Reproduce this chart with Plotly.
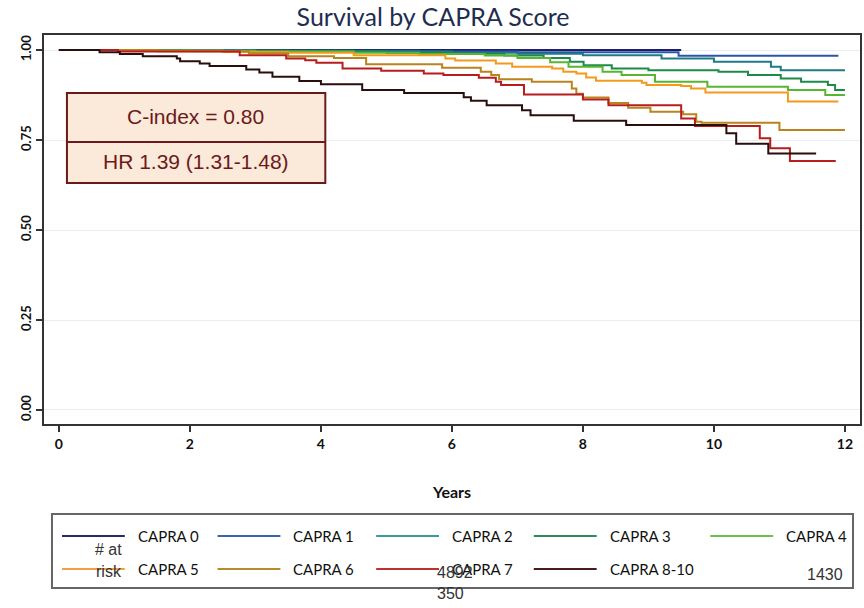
import plotly.graph_objects as go

# ---------------- data ----------------
categories = ["CAPRA 0", "CAPRA 1", "CAPRA 2", "CAPRA 3", "CAPRA 4",
              "CAPRA 5", "CAPRA 6", "CAPRA 7", "CAPRA 8-10"]

t_c0 = [0, 9.5]
s_c0 = [1.0, 1.0]

t_c1 = [0, 3.0, 5.5, 7.0, 9.46, 11.9]
s_c1 = [1.0, 0.998, 0.996, 0.994, 0.984, 0.984]

t_c2 = [0, 2.5, 4.5, 6.0, 7.0, 8.0, 9.2, 10.0, 10.87, 11.02, 12.0]
s_c2 = [1.0, 0.998, 0.996, 0.993, 0.990, 0.986, 0.977, 0.968, 0.954, 0.944, 0.944]

t_c3 = [0, 2.0, 3.5, 5.0, 6.0, 6.8, 7.4, 7.8, 8.01, 8.44, 9.0, 10.07, 10.52, 11.02, 11.33, 11.74, 11.85, 12.0]
s_c3 = [1.0, 0.998, 0.996, 0.993, 0.990, 0.985, 0.978, 0.968, 0.958, 0.949, 0.944, 0.940, 0.931, 0.921, 0.912, 0.903, 0.889, 0.889]

t_c4 = [0, 1.5, 3.0, 4.5, 5.5, 6.5, 7.0, 7.5, 7.78, 8.3, 8.59, 9.1, 9.9, 11.13, 11.7, 12.0]
s_c4 = [1.0, 0.998, 0.996, 0.993, 0.989, 0.985, 0.978, 0.966, 0.954, 0.940, 0.931, 0.912, 0.898, 0.889, 0.875, 0.875]

t_c5 = [0, 1.5, 2.5, 3.5, 4.5, 5.9, 6.05, 6.67, 6.92, 7.53, 7.7, 7.9, 8.05, 8.2, 8.9, 8.97, 9.5, 9.65, 9.87, 11.13, 11.9]
s_c5 = [1.0, 0.998, 0.995, 0.993, 0.986, 0.977, 0.971, 0.963, 0.954, 0.949, 0.940, 0.935, 0.924, 0.915, 0.909, 0.903, 0.900, 0.893, 0.882, 0.857, 0.857]

t_c6 = [0, 1.5, 2.9, 3.5, 4.2, 4.69, 5.85, 6.44, 6.6, 6.72, 7.22, 7.83, 7.9, 8.0, 8.39, 8.69, 9.03, 9.53, 9.73, 9.81, 11.0, 12.0]
s_c6 = [1.0, 0.997, 0.991, 0.983, 0.978, 0.961, 0.951, 0.940, 0.931, 0.919, 0.912, 0.893, 0.879, 0.868, 0.853, 0.840, 0.829, 0.822, 0.801, 0.798, 0.778, 0.778]

t_c7 = [0, 0.9, 2.76, 3.47, 3.76, 3.93, 4.33, 4.92, 5.57, 5.87, 6.41, 6.67, 6.75, 7.1, 8.0, 8.39, 9.5, 9.71, 10.7, 10.86, 11.16, 11.86]
s_c7 = [1.0, 0.996, 0.986, 0.977, 0.972, 0.965, 0.949, 0.943, 0.935, 0.931, 0.923, 0.912, 0.903, 0.877, 0.863, 0.847, 0.810, 0.789, 0.755, 0.727, 0.692, 0.692]

t_c8 = [0, 0.62, 0.93, 1.28, 1.8, 1.85, 2.15, 2.3, 2.86, 3.06, 3.26, 3.67, 4.0, 4.63, 5.27, 6.18, 6.29, 6.53, 7.07, 7.2, 7.86, 8.66, 10.19, 10.34, 10.83, 11.56]
s_c8 = [1.0, 0.994, 0.989, 0.983, 0.977, 0.969, 0.963, 0.956, 0.946, 0.938, 0.926, 0.914, 0.905, 0.889, 0.881, 0.869, 0.859, 0.847, 0.833, 0.819, 0.804, 0.792, 0.769, 0.740, 0.713, 0.713]

times = [t_c0, t_c1, t_c2, t_c3, t_c4, t_c5, t_c6, t_c7, t_c8]
survs = [s_c0, s_c1, s_c2, s_c3, s_c4, s_c5, s_c6, s_c7, s_c8]

x_ticks = [0, 2, 4, 6, 8, 10, 12]
y_ticks = [0.0, 0.25, 0.50, 0.75, 1.00]
y_ticklabels = ["0.00", "0.25", "0.50", "0.75", "1.00"]

# ---------------- style ----------------
line_colors = ["#1c1f6e", "#2c55a8", "#1f7a86", "#1e8a48", "#58b532",
               "#f39a1e", "#b8841c", "#b81c1c", "#2a0d0d"]
legend_colors = ["#2a2a6a", "#3a64b0", "#3a9c94", "#2e8a5a", "#6cbf48",
                 "#f5a040", "#b88a30", "#c03030", "#4a1a1a"]

W, H = 864, 608
ML, MR, MT, MB = 44, 2, 35, 184
PW, PH = W - ML - MR, H - MT - MB


def px(xpix):
    return (xpix - ML) / PW


def py(ypix):
    return (H - MB - ypix) / PH


fig = go.Figure()
for name, tt, ss, col in zip(categories, times, survs, line_colors):
    fig.add_trace(go.Scatter(x=tt, y=ss, mode="lines", name=name,
                             line=dict(color=col, width=2, shape="hv"),
                             showlegend=False))

shapes = []
annotations = []

# C-index box
shapes.append(dict(type="rect", xref="paper", yref="paper",
                   x0=px(67), x1=px(326), y0=py(183), y1=py(93),
                   fillcolor="#fbe9d9", line=dict(color="#6b1a1a", width=2), layer="above"))
shapes.append(dict(type="line", xref="paper", yref="paper",
                   x0=px(67), x1=px(326), y0=py(142), y1=py(142),
                   line=dict(color="#6b1a1a", width=2)))
for txt, yy in [("C-index = 0.80", 117), ("HR 1.39 (1.31-1.48)", 161)]:
    annotations.append(dict(text=txt, xref="paper", yref="paper",
                            x=px(196), y=py(yy), xanchor="center", yanchor="middle",
                            showarrow=False,
                            font=dict(family="Liberation Sans", size=21, color="#6b1a1a")))

# manual legend
shapes.append(dict(type="rect", xref="paper", yref="paper",
                   x0=px(52), x1=px(855), y0=py(588), y1=py(514),
                   fillcolor="white", line=dict(color="#666666", width=2)))
col_x = [62, 218, 377, 535, 712]
row_y = [536, 569]
for i, (name, col) in enumerate(zip(categories, legend_colors)):
    r, c = divmod(i, 5)
    x0 = col_x[c]
    yy = row_y[r]
    shapes.append(dict(type="line", xref="paper", yref="paper",
                       x0=px(x0), x1=px(x0 + 63), y0=py(yy), y1=py(yy),
                       line=dict(color=col, width=2)))
    annotations.append(dict(text=name, xref="paper", yref="paper",
                            x=px(x0 + 74), y=py(yy), xanchor="left", yanchor="middle",
                            showarrow=False,
                            font=dict(family="Lato", size=15, color="#111111")))

# stray "# at risk" texts
for txt, xx, yy, anchor in [("# at", 124, 549, "right"), ("risk", 124, 571, "right"),
                            ("4892", 436, 572, "left"), ("350", 436, 593, "left"),
                            ("1430", 847, 574, "right")]:
    annotations.append(dict(text=txt, xref="paper", yref="paper", x=px(xx), y=py(yy),
                            xanchor=anchor, yanchor="middle", showarrow=False,
                            font=dict(family="Liberation Sans", size=16, color="#333333")))

fig.update_layout(
    width=W, height=H,
    margin=dict(l=ML, r=MR, t=MT, b=MB),
    paper_bgcolor="white", plot_bgcolor="white",
    title=dict(text="Survival by CAPRA Score", x=px(454), xanchor="center",
               y=1 - 17 / H, yanchor="middle",
               font=dict(family="Lato", size=25, color="#1f2d50")),
    shapes=shapes, annotations=annotations,
    showlegend=False,
)
fig.update_xaxes(range=[-0.228, 12.23], tickvals=x_ticks, ticks="outside", ticklen=6,
                 tickwidth=2, tickcolor="#333333", showgrid=False, zeroline=False,
                 showline=True, linecolor="#333333", linewidth=2, mirror=True,
                 tickfont=dict(family="Lato", size=14, color="#111111", weight="bold"),
                 title=dict(text="Years", standoff=36,
                            font=dict(family="Lato", size=16, color="#111111", weight="bold")))
fig.update_yaxes(range=[-0.039, 1.042], tickvals=y_ticks, ticktext=y_ticklabels,
                 tickangle=-90, ticks="outside", ticklen=6, tickwidth=2,
                 tickcolor="#333333", showgrid=True, gridcolor="#e6eef3", gridwidth=1,
                 zeroline=False, showline=True, linecolor="#333333", linewidth=2,
                 mirror=True,
                 tickfont=dict(family="Lato", size=13, color="#111111", weight="bold"))

fig.write_html("out.html")
